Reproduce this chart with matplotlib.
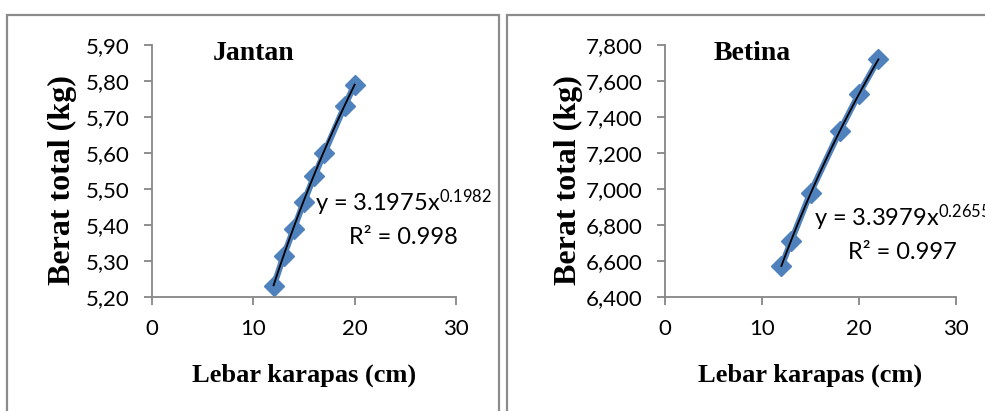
import numpy as np
import matplotlib
matplotlib.use('Agg')
import matplotlib.pyplot as plt
from matplotlib.ticker import FuncFormatter
from matplotlib.patches import Rectangle

plt.rcParams['mathtext.fontset'] = 'custom'
plt.rcParams['mathtext.rm'] = 'Lato'
plt.rcParams['mathtext.default'] = 'regular'

# data
jantan_x = [12, 13, 14, 15, 16, 17, 19, 20]
jantan_y = [5.23, 5.315, 5.39, 5.465, 5.535, 5.60, 5.73, 5.79]
jantan_a, jantan_b, jantan_r2 = 3.1975, 0.1982, 0.998

betina_x = [12, 13, 15, 18, 20, 22]
betina_y = [6.57, 6.71, 6.98, 7.32, 7.53, 7.72]
betina_a, betina_b, betina_r2 = 3.3979, 0.2655, 0.997

W, H = 985, 411
fig = plt.figure(figsize=(W / 100, H / 100), dpi=100)

def fx(px):
    return px / W

def fy(py):
    return 1 - py / H

# panel borders
border = '#8c8c8c'
fig.patches.append(Rectangle((fx(7), fy(430)), fx(492), fy(15) - fy(430),
                             transform=fig.transFigure, fill=False,
                             ec=border, lw=1.6))
fig.patches.append(Rectangle((fx(507), fy(430)), fx(500), fy(15) - fy(430),
                             transform=fig.transFigure, fill=False,
                             ec=border, lw=1.6))

serif = 'Liberation Serif'
sans = 'Lato'
blue = '#4f81bd'
axcol = '#868686'

panels = [
    dict(x=jantan_x, y=jantan_y, a=jantan_a, b=jantan_b, r2=jantan_r2,
         left=152, right=456, ylim=(5.2, 5.9), ystep=0.1, dec=2,
         title='Jantan', tx=254, eqx=403, eqy=203, ylx=62),
    dict(x=betina_x, y=betina_y, a=betina_a, b=betina_b, r2=betina_r2,
         left=665, right=956, ylim=(6.4, 7.8), ystep=0.2, dec=3,
         title='Betina', tx=752, eqx=902, eqy=218, ylx=568),
]

for p in panels:
    ax = fig.add_axes([fx(p['left']), fy(297), fx(p['right'] - p['left']),
                       fy(45) - fy(297)])
    ax.set_xlim(0, 30)
    ax.set_ylim(*p['ylim'])
    ax.set_xticks([0, 10, 20, 30])
    ax.set_yticks(np.arange(p['ylim'][0], p['ylim'][1] + 1e-9, p['ystep']))
    dec = p['dec']
    ax.yaxis.set_major_formatter(
        FuncFormatter(lambda v, pos, d=dec: f'{v:.{d}f}'.replace('.', ',')))
    for s in ['top', 'right']:
        ax.spines[s].set_visible(False)
    for s in ['left', 'bottom']:
        ax.spines[s].set_color(axcol)
        ax.spines[s].set_linewidth(1.3)
    ax.tick_params(axis='both', colors=axcol, length=6, width=1.3,
                   labelcolor='black', labelsize=16)
    ax.tick_params(axis='y', pad=10)
    ax.tick_params(axis='x', pad=10)
    for lab in ax.get_xticklabels() + ax.get_yticklabels():
        lab.set_fontfamily(sans)
    ax.patch.set_visible(False)

    ax.plot(p['x'], p['y'], color=blue, lw=4.5, marker='D', ms=10.5,
            solid_joinstyle='miter', clip_on=False)
    xs = np.linspace(min(p['x']), max(p['x']), 50)
    ax.plot(xs, p['a'] * xs ** p['b'], color='black', lw=1.3, clip_on=False)

    fig.text(fx(p['tx']), fy(53), p['title'], fontfamily=serif,
             fontweight='bold', fontsize=20, ha='center', va='center')
    fig.text(fx(p['eqx']), fy(p['eqy']),
             f"y = {p['a']:.4f}x$^{{{p['b']:.4f}}}$",
             fontfamily=sans, fontsize=17, ha='center', va='center')
    fig.text(fx(p['eqx']), fy(p['eqy'] + 34), f"R² = {p['r2']:.3f}",
             fontfamily=sans, fontsize=17, ha='center', va='center')
    fig.text(fx((p['left'] + p['right']) / 2), fy(375), 'Lebar karapas (cm)',
             fontfamily=serif, fontweight='bold', fontsize=19,
             ha='center', va='center')
    fig.text(fx(p['ylx']), fy(180), 'Berat total (kg)', fontfamily=serif,
             fontweight='bold', fontsize=23, rotation=90,
             ha='center', va='center')

fig.savefig('out.png', dpi=100)
